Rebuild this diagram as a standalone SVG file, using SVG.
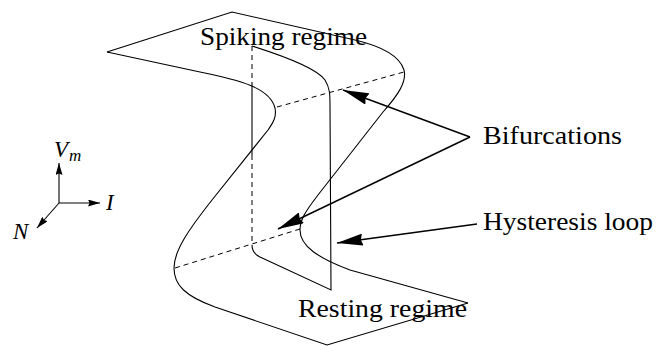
<svg xmlns="http://www.w3.org/2000/svg" width="668" height="346" viewBox="0 0 668 346">
<style>
.c{fill:none;stroke:#000;stroke-width:1.1}
.d{fill:none;stroke:#000;stroke-width:1;stroke-dasharray:5 4}
.a{fill:none;stroke:#000;stroke-width:1.4}
.t{font-family:"Liberation Serif",serif;font-size:26px;fill:#000}
.m{font-family:"Liberation Serif",serif;font-style:italic;fill:#000}
</style>
<defs>
<marker id="ah" viewBox="0 0 26 12" refX="26" refY="6" markerWidth="26" markerHeight="12" markerUnits="userSpaceOnUse" orient="auto"><path d="M0,0 L26,6 L0,12 L2,6 z" fill="#000"/></marker>
<marker id="sh" viewBox="0 0 12 7" refX="12" refY="3.5" markerWidth="12" markerHeight="7" markerUnits="userSpaceOnUse" orient="auto"><path d="M0,0 L12,3.5 L0,7 L1.5,3.5 z" fill="#000"/></marker>
</defs>
<g id="surface">
<path class="c" d="M107,52 L232,12 L355,40 C385,47 400,57 404,70 C407,82 398,95 383,112 L318,195 C305,212 300,220 300,230 C300,246 318,258 350,270 L468,303"/>
<path class="c" d="M107,52 L200,72 C240,80 270,88 275,108 C277,118 272,124 268,130 L212,200 C190,228 174,250 174,268 C174,285 185,296 215,307 L327,345 L468,303"/>
<path class="c" d="M252,46 C290,58 318,70 325,80 C330,88 330,95 330,105 L331,290 L260,257 C254,254 252,250 252,245"/>
<path class="c" d="M252,82 L252,155"/>
<path class="d" d="M252,46 L252,82"/>
<path class="d" d="M252,155 L252,245"/>
<path class="d" d="M277,107 L404,72"/>
<path class="d" d="M175,268 L300,229"/>
</g>
<g id="axes">
<path class="c" d="M59,203 L59,163" marker-end="url(#sh)"/>
<path class="c" d="M59,203 L100,203" marker-end="url(#sh)"/>
<path class="c" d="M59,203 L37,228" marker-end="url(#sh)"/>
<text class="m" x="54" y="157" font-size="23">V</text>
<text class="m" x="69" y="161" font-size="17">m</text>
<text class="m" x="106" y="210" font-size="23">I</text>
<text class="m" x="13" y="239" font-size="23">N</text>
</g>
<g id="connectors">
<path class="a" d="M470,137 L343,90" marker-end="url(#ah)"/>
<path class="a" d="M470,137 L278,229" marker-end="url(#ah)"/>
<path class="a" d="M477,224 L337,243" marker-end="url(#ah)"/>
</g>
<g id="labels">
<text class="t" x="200" y="45" textLength="167" lengthAdjust="spacingAndGlyphs">Spiking regime</text>
<text class="t" x="483" y="144" textLength="139" lengthAdjust="spacingAndGlyphs">Bifurcations</text>
<text class="t" x="483" y="230" textLength="170" lengthAdjust="spacingAndGlyphs">Hysteresis loop</text>
<text class="t" x="298" y="317" textLength="169" lengthAdjust="spacingAndGlyphs">Resting regime</text>
</g>
</svg>
